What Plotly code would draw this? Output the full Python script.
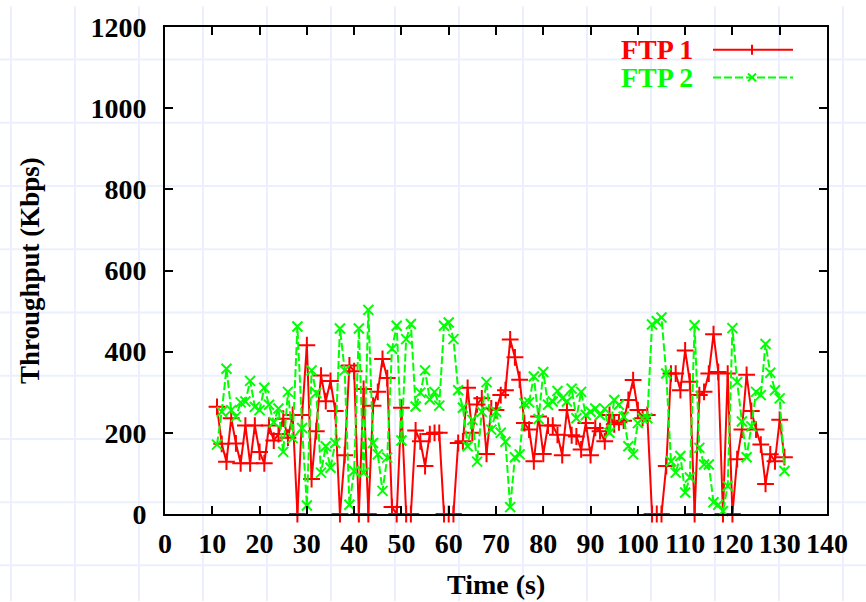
import plotly.graph_objects as go

# Sample times (s)
time_s = list(range(11, 132))

# FTP 1 throughput (Kbps)
ftp1 = [264, 173, 129, 236, 174, 125, 218, 125, 218, 153,
        125, 218, 181, 197, 235, 188, 244, 0, 244, 416,
        86, 204, 341, 278, 328, 254, 0, 145, 366, 352,
        0, 308, 0, 267, 301, 382, 335, 17, 0, 262,
        0, 0, 206, 179, 118, 197, 200, 200, 0, 0,
        0, 175, 179, 311, 200, 270, 285, 148, 260, 256,
        293, 305, 430, 386, 331, 224, 208, 130, 240, 148,
        218, 218, 195, 145, 256, 194, 191, 159, 224, 145,
        212, 204, 179, 244, 221, 226, 230, 281, 330, 256,
        236, 244, 0, 0, 0, 118, 346, 346, 305, 403,
        326, 0, 293, 301, 346, 443, 350, 0, 346, 0,
        135, 208, 343, 254, 208, 171, 74, 147, 130, 232,
        140]

# FTP 2 throughput (Kbps)
ftp2 = [171, 252, 358, 256, 240, 275, 277, 328, 264, 256,
        311, 269, 226, 260, 153, 301, 187, 462, 212, 21,
        354, 298, 102, 167, 114, 175, 457, 354, 23, 106,
        457, 102, 503, 175, 147, 57, 139, 407, 464, 181,
        431, 468, 265, 299, 354, 282, 301, 267, 464, 472,
        431, 305, 262, 167, 232, 129, 252, 325, 208, 252,
        200, 178, 17, 140, 147, 273, 275, 339, 234, 350,
        269, 277, 303, 285, 277, 309, 236, 301, 244, 252,
        260, 244, 259, 200, 281, 269, 240, 167, 147, 224,
        236, 236, 467, 475, 484, 346, 130, 102, 143, 53,
        90, 465, 163, 122, 122, 29, 23, 7, 69, 458,
        325, 228, 140, 216, 301, 293, 419, 348, 305, 285,
        106]

x_ticks = list(range(0, 141, 10))
y_ticks = list(range(0, 1201, 200))

RED = "#ff0000"
GREEN = "#00ff00"
FONT = "Liberation Serif"

W, H = 866, 602
ML, MR, MT, MB = 165, 39, 21, 88
PW, PH = W - ML - MR, H - MT - MB


def fx(px):
    return (px - ML) / PW


def fy(py):
    return (H - MB - py) / PH


fig = go.Figure()

fig.add_trace(go.Scatter(
    x=time_s, y=ftp1, mode="lines+markers", name="FTP 1",
    line=dict(color=RED, width=2),
    marker=dict(symbol="cross-thin", size=12, line=dict(color=RED, width=2)),
    cliponaxis=False,
))
fig.add_trace(go.Scatter(
    x=time_s, y=ftp2, mode="lines+markers", name="FTP 2",
    line=dict(color=GREEN, width=2, dash="8px,3px"),
    marker=dict(symbol="x-thin", size=10, line=dict(color=GREEN, width=2)),
    cliponaxis=False,
))

shapes = []
# faint page grid behind everything
for gx in range(11, W + 1, 64):
    shapes.append(dict(type="line", xref="paper", yref="paper", layer="below",
                       x0=fx(gx), x1=fx(gx), y0=fy(0), y1=fy(H),
                       line=dict(color="#eceffd", width=2)))
for gy in range(54, H + 1, 64):
    shapes.append(dict(type="line", xref="paper", yref="paper", layer="below",
                       x0=fx(0), x1=fx(W), y0=fy(gy), y1=fy(gy),
                       line=dict(color="#eceffd", width=2)))

# key samples (text on the left, line sample on the right)
key_rows = [("FTP 1", RED, "solid", 44, "plus"), ("FTP 2", GREEN, "8px,3px", 72, "cross")]
annotations = []
for label, col, dash, ky, mk in key_rows:
    annotations.append(dict(text=label, xref="paper", yref="paper",
                            x=fx(695), y=fy(ky), xanchor="right", yanchor="middle",
                            showarrow=False,
                            font=dict(family=FONT, size=28, color=col, weight="bold")))
    shapes.append(dict(type="line", xref="paper", yref="paper",
                       x0=fx(713), x1=fx(793), y0=fy(ky), y1=fy(ky),
                       line=dict(color=col, width=2, dash=dash)))
    if mk == "plus":
        shapes.append(dict(type="line", xref="paper", yref="paper",
                           x0=fx(752), x1=fx(752), y0=fy(ky - 5), y1=fy(ky + 5),
                           line=dict(color=col, width=2)))
    else:
        shapes.append(dict(type="line", xref="paper", yref="paper",
                           x0=fx(748), x1=fx(756), y0=fy(ky - 4), y1=fy(ky + 4),
                           line=dict(color=col, width=2)))
        shapes.append(dict(type="line", xref="paper", yref="paper",
                           x0=fx(748), x1=fx(756), y0=fy(ky + 4), y1=fy(ky - 4),
                           line=dict(color=col, width=2)))

annotations.append(dict(text="Time (s)", xref="paper", yref="paper",
                        x=fx(496), y=fy(585), xanchor="center", yanchor="middle",
                        showarrow=False,
                        font=dict(family=FONT, size=28, color="black", weight="bold")))
annotations.append(dict(text="Throughput (Kbps)", xref="paper", yref="paper",
                        x=fx(30), y=fy(268), xanchor="center", yanchor="middle",
                        textangle=-90, showarrow=False,
                        font=dict(family=FONT, size=27, color="black", weight="bold")))

axis_common = dict(
    showgrid=False, zeroline=False, showline=True, linecolor="black", linewidth=2,
    mirror="ticks", ticks="inside", ticklen=8, tickwidth=2, tickcolor="black",
    tickfont=dict(family=FONT, size=28, color="black", weight="bold"),
)

fig.update_layout(
    width=W, height=H,
    margin=dict(l=ML, r=MR, t=MT, b=MB, pad=0),
    paper_bgcolor="white", plot_bgcolor="rgba(0,0,0,0)",
    showlegend=False,
    shapes=shapes, annotations=annotations,
    xaxis=dict(range=[0, 140], tickvals=x_ticks, ticktext=[str(v) for v in x_ticks],
               ticklabelstandoff=3, **axis_common),
    yaxis=dict(range=[0, 1200], tickvals=y_ticks, ticktext=[str(v) for v in y_ticks],
               ticklabelstandoff=11, **axis_common),
)

fig.write_html("out.html")
